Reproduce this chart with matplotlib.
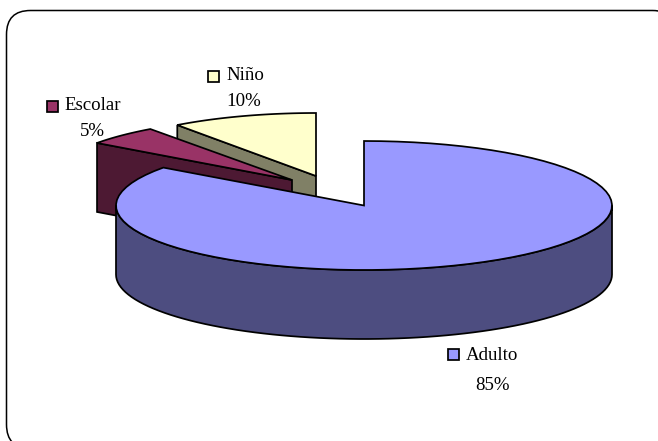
import numpy as np
import matplotlib
matplotlib.use("Agg")
import matplotlib.pyplot as plt
from matplotlib.patches import Polygon, Rectangle, FancyBboxPatch

labels = ["Adulto", "Escolar", "Niño"]
values = [85, 5, 10]
pct_labels = ["85%", "5%", "10%"]

top_colors = ["#9999FF", "#993366", "#FFFFCC"]
side_colors = ["#4D4D80", "#4D1933", "#808066"]

# slice centres in pixels, (x, y, rx, ry)
geom = [(364, 205.5, 248, 64.5), (292, 180, 241, 63), (316, 176, 236, 63)]
depth = 69
line_w = 1.25
# legend square left/top, text x/y, percent x/y
label_pos = [(448, 349, 466, 355, 492, 385),
             (47, 101, 64, 106, 92, 131),
             (208, 71, 226, 76, 244, 101)]

plt.rcParams["font.family"] = ["Liberation Serif", "DejaVu Serif"]

fig = plt.figure(figsize=(6.58, 4.41), dpi=100)
ax = fig.add_axes([0, 0, 1, 1])
ax.set_xlim(0, 658)
ax.set_ylim(441, 0)
ax.axis("off")

# rounded frame, runs off the right and bottom of the picture
frame = FancyBboxPatch((28, 32), 627, 395, boxstyle="round,pad=21.5,rounding_size=24",
                       fc="white", ec="black", lw=1.1, zorder=1)
ax.add_patch(frame)


def rim(i, t0, t1):
    cx, cy, rx, ry = geom[i]
    t = np.radians(np.linspace(t0, t1, 80))
    return np.column_stack([cx + rx * np.sin(t), cy - ry * np.cos(t)])


# angles run clockwise from the top
edges = np.cumsum([0] + values) / sum(values) * 360
down = np.array([0, depth])
z = 2

# back to front: Niño, Escolar, Adulto
for i in [2, 1, 0]:
    t0, t1 = edges[i], edges[i + 1]
    apex = np.array(geom[i][:2])
    if i == 0:
        # outer wall, front half only
        r = rim(i, 90, 270)
        ax.add_patch(Polygon(np.vstack([r, (r + down)[::-1]]), fc=side_colors[i],
                             ec="black", lw=line_w, zorder=z))
    else:
        # cut face on the left side of the slice
        start = rim(i, t0, t0)[0]
        face = [start, apex, apex + down, start + down]
        ax.add_patch(Polygon(face, fc=side_colors[i], ec="black", lw=line_w, zorder=z))
    ax.add_patch(Polygon(np.vstack([apex, rim(i, t0, t1)]), fc=top_colors[i],
                         ec="black", lw=line_w, zorder=z + 1))
    z += 2

for i, lab in enumerate(labels):
    sx, sy, tx, ty, px, py = label_pos[i]
    ax.add_patch(Rectangle((sx, sy), 11, 11, fc=top_colors[i], ec="black", lw=line_w, zorder=10))
    ax.text(tx, ty, lab, fontsize=13.6, ha="left", va="center", zorder=10)
    ax.text(px, py, pct_labels[i], fontsize=13.6, ha="center", va="center", zorder=10)

fig.savefig("out.png", dpi=100)
